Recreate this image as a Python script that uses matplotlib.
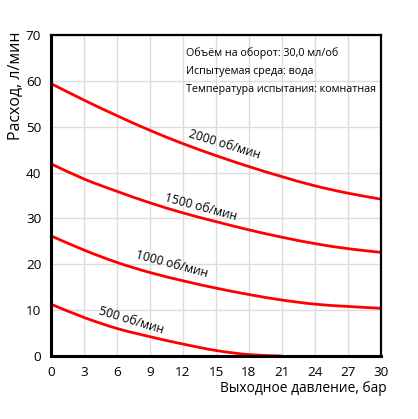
import matplotlib
matplotlib.use("Agg")
import matplotlib.pyplot as plt
from matplotlib.path import Path
from matplotlib.patches import PathPatch
import numpy as np

plt.rcParams['font.family'] = ['Open Sans', 'DejaVu Sans']

pressure = [0, 3, 6, 9, 12, 15, 18, 21, 24, 27, 30]
flow_2000 = [59.4, 55.8, 52.4, 49.2, 46.3, 43.7, 41.3, 39.1, 37.1, 35.5, 34.2]
flow_1500 = [41.9, 38.6, 35.9, 33.4, 31.2, 29.3, 27.5, 25.9, 24.5, 23.4, 22.6]
flow_1000 = [26.2, 23.1, 20.4, 18.2, 16.4, 14.8, 13.4, 12.2, 11.3, 10.8, 10.4]
pressure_500 = [0, 3, 6, 9, 12, 15, 18, 21]
flow_500 = [11.3, 8.4, 6.0, 4.2, 2.6, 1.2, 0.3, 0.0]

labels = ["2000 об/мин", "1500 об/мин", "1000 об/мин", "500 об/мин"]
label_pos = [(15.8, 46.2), (13.6, 32.4), (11.0, 19.9), (7.3, 7.8)]
label_rot = [-17, -15, -15, -17]

xticks = list(range(0, 31, 3))
yticks = list(range(0, 71, 10))
info = ["Объём на оборот: 30,0 мл/об", "Испытуемая среда: вода",
        "Температура испытания: комнатная"]

fig = plt.figure(figsize=(4.18, 4.19), dpi=100)
ax = fig.add_axes([0.122, 0.1504, 0.7895, 0.7661])

ax.set_xlim(0, 30)
ax.set_ylim(0, 70)
ax.set_xticks(xticks)
ax.set_yticks(yticks)
ax.grid(True, color='#dcdcdc', linewidth=1.0, zorder=0)
ax.tick_params(length=0, labelsize=9.7, pad=7)


def smooth_path(xs, ys):
    """Catmull-Rom spline through the data points, as cubic Bezier segments."""
    xs = np.asarray(xs, float)
    ys = np.asarray(ys, float)
    pts = np.column_stack([xs, ys])
    n = len(pts)
    verts = [pts[0]]
    codes = [Path.MOVETO]
    for i in range(n - 1):
        p0 = pts[i - 1] if i > 0 else pts[i]
        p1 = pts[i]
        p2 = pts[i + 1]
        p3 = pts[i + 2] if i + 2 < n else pts[i + 1]
        c1 = p1 + (p2 - p0) / 6.0
        c2 = p2 - (p3 - p1) / 6.0
        verts += [c1, c2, p2]
        codes += [Path.CURVE4] * 3
    return Path(verts, codes)


for xs, ys in [(pressure, flow_2000), (pressure, flow_1500), (pressure, flow_1000), (pressure_500, flow_500)]:
    patch = PathPatch(smooth_path(xs, ys), facecolor='none', edgecolor='#ff0000',
                      linewidth=2, zorder=3, capstyle='butt')
    ax.add_patch(patch)

for lab, (lx, ly), r in zip(labels, label_pos, label_rot):
    ax.text(lx, ly, lab, rotation=r, ha='center', va='center', fontsize=8.7, zorder=4)

# white box behind info text
ax.add_patch(plt.Rectangle((11.8, 55.2), 18.2, 14.8, facecolor='white', edgecolor='none', zorder=1))
for i, t in enumerate(info):
    ax.text(12.3, 66.0 - i * 3.9, t, ha='left', va='center', fontsize=7.75, zorder=4)

for s in ['left', 'bottom']:
    ax.spines[s].set_linewidth(2.2)
for s in ['top', 'right']:
    ax.spines[s].set_linewidth(1.6)
for s in ax.spines.values():
    s.set_color('black')
    s.set_zorder(5)

ax.set_ylabel("Расход, л/мин", fontsize=11.5, ha='center', va='center')
ax.yaxis.set_label_coords(-0.109, 0.841)
ax.set_xlabel("Выходное давление, бар", fontsize=9.9, ha='right', va='center')
ax.xaxis.set_label_coords(1.018, -0.1)

fig.savefig("out.png", dpi=100)
